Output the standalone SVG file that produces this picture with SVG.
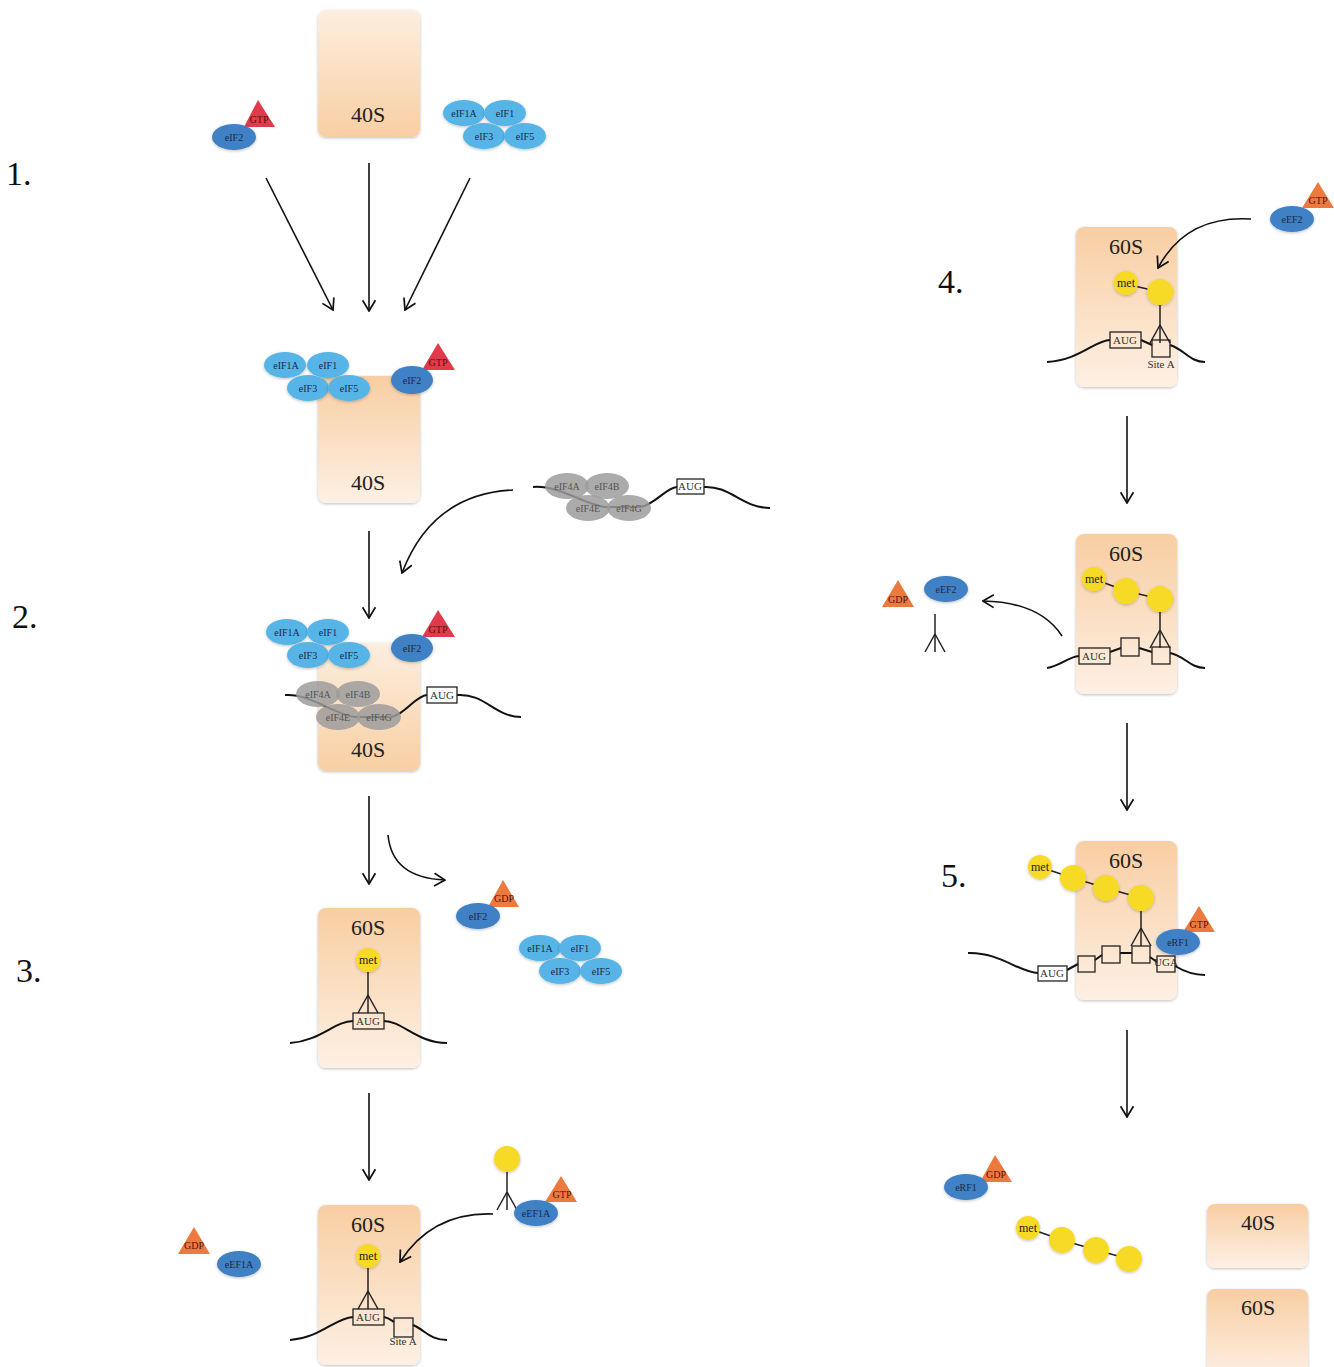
<svg xmlns="http://www.w3.org/2000/svg" width="1334" height="1367" viewBox="0 0 1334 1367">
<defs>
<linearGradient id="g40" x1="0" y1="0" x2="0" y2="1">
<stop offset="0" stop-color="#fdeee0"/><stop offset="1" stop-color="#f8cfa3"/>
</linearGradient>
<linearGradient id="g60" x1="0" y1="0" x2="0" y2="1">
<stop offset="0" stop-color="#f8cea2"/><stop offset="1" stop-color="#fdf0e4"/>
</linearGradient>
<filter id="sh" x="-20%" y="-20%" width="140%" height="140%">
<feDropShadow dx="0" dy="1" stdDeviation="1.5" flood-color="#000" flood-opacity="0.25"/>
</filter>
<marker id="ah" viewBox="0 0 12 14" refX="11" refY="7" markerWidth="13" markerHeight="15" markerUnits="userSpaceOnUse" orient="auto">
<path d="M1,1 L11,7 L1,13" fill="none" stroke="#111" stroke-width="1.6"/>
</marker>
<g id="tri"><line x1="0" y1="0" x2="-10" y2="18"/><line x1="0" y1="0" x2="0" y2="18"/><line x1="0" y1="0" x2="10" y2="18"/></g>
</defs>
<style>
.lbl{font-family:"Liberation Serif","Times New Roman",serif;font-size:34px;fill:#111}
.rib{font-family:"Liberation Serif","Times New Roman",serif;font-size:22px;fill:#222;text-anchor:middle}
.box40{fill:url(#g40);filter:url(#sh)}
.box60{fill:url(#g60);filter:url(#sh)}
.eb{fill:#3f80c4;filter:url(#sh)}
.el{fill:#57b5e6;filter:url(#sh)}
.eg{fill:#9c9c9c;opacity:0.85}
.t{font-family:"Liberation Serif","Times New Roman",serif;font-size:10px;fill:#1a2a48;text-anchor:middle}
.tg{font-family:"Liberation Serif","Times New Roman",serif;font-size:10px;fill:#555;text-anchor:middle}
.tt{font-family:"Liberation Serif","Times New Roman",serif;font-size:10px;fill:#5a1010;text-anchor:middle}
.red{fill:#e13a4a}
.org{fill:#ec7a3e}
.y{fill:#f6da26;filter:url(#sh)}
.tm{font-family:"Liberation Serif","Times New Roman",serif;font-size:12px;fill:#222;text-anchor:middle}
.ln{fill:none;stroke:#111;stroke-width:2}
.thin{fill:none;stroke:#222;stroke-width:1.5}
.bx{fill:#fff;stroke:#222;stroke-width:1.3}
.bxt{fill:none;stroke:#222;stroke-width:1.3}
.ta{font-family:"Liberation Serif","Times New Roman",serif;font-size:11px;fill:#333;text-anchor:middle}
.arr{fill:none;stroke:#111;stroke-width:1.6;marker-end:url(#ah)}
</style>
<rect width="1334" height="1367" fill="#fff"/>

<g id="labels">
<text class="lbl" x="6" y="185">1.</text>
<text class="lbl" x="12" y="628">2.</text>
<text class="lbl" x="16" y="982">3.</text>
<text class="lbl" x="938" y="293">4.</text>
<text class="lbl" x="941" y="887">5.</text>
</g>

<!-- Step 1 inputs -->
<g id="eIF2-gtp-top">
<polygon class="red" points="244,127 258,100 275,127"/>
<ellipse class="eb" cx="234" cy="137" rx="22" ry="13"/>
<text class="t" x="234" y="141">eIF2</text>
<text class="tt" x="259" y="123">GTP</text>
</g>
<g id="ribosome40S-top">
<rect class="box40" x="318" y="10" width="102" height="127" rx="8"/>
<text class="rib" x="368" y="122">40S</text>
</g>
<g id="eIF-cluster-top">
<ellipse class="el" cx="464" cy="113" rx="21" ry="13"/>
<ellipse class="el" cx="505" cy="113" rx="21" ry="13"/>
<ellipse class="el" cx="484" cy="136" rx="21" ry="13"/>
<ellipse class="el" cx="525" cy="136" rx="21" ry="13"/>
<text class="t" x="464" y="117">eIF1A</text>
<text class="t" x="505" y="117">eIF1</text>
<text class="t" x="484" y="140">eIF3</text>
<text class="t" x="525" y="140">eIF5</text>
</g>

<!-- Step 1 result -->
<g id="complex-43S">
<rect class="box60" x="318" y="376" width="102" height="127" rx="8"/>
<text class="rib" x="368" y="490">40S</text>
<ellipse class="el" cx="285" cy="365" rx="21" ry="13"/>
<ellipse class="el" cx="328" cy="365" rx="21" ry="13"/>
<ellipse class="el" cx="308" cy="388" rx="21" ry="13"/>
<ellipse class="el" cx="349" cy="388" rx="21" ry="13"/>
<text class="t" x="286" y="369">eIF1A</text>
<text class="t" x="328" y="369">eIF1</text>
<text class="t" x="308" y="392">eIF3</text>
<text class="t" x="349" y="392">eIF5</text>
<polygon class="red" points="422,370 438,343 455,370"/>
<ellipse class="eb" cx="412" cy="380" rx="21" ry="14"/>
<text class="t" x="412" y="384">eIF2</text>
<text class="tt" x="438" y="366">GTP</text>
</g>

<!-- mRNA complex -->
<g id="mRNA-eIF4">
<path class="ln" d="M533,487 C560,485 585,505 605,507 L640,507 C655,505 665,488 677,487"/>
<path class="ln" d="M703,487 C730,485 742,508 770,508"/>
<ellipse class="eg" cx="567" cy="486" rx="22" ry="13"/>
<ellipse class="eg" cx="607" cy="486" rx="22" ry="13"/>
<ellipse class="eg" cx="588" cy="508" rx="22" ry="13"/>
<ellipse class="eg" cx="629" cy="508" rx="22" ry="13"/>
<text class="tg" x="567" y="490">eIF4A</text>
<text class="tg" x="607" y="490">eIF4B</text>
<text class="tg" x="588" y="512">eIF4E</text>
<text class="tg" x="629" y="512">eIF4G</text>
<rect class="bx" x="677" y="479" width="27" height="15"/>
<text class="ta" x="690" y="490" font-size="10">AUG</text>
</g>

<!-- Step 2 -->
<g id="complex-48S">
<rect class="box40" x="318" y="643" width="102" height="128" rx="8"/>
<text class="rib" x="368" y="757">40S</text>
<ellipse class="el" cx="287" cy="632" rx="21" ry="13"/>
<ellipse class="el" cx="328" cy="632" rx="21" ry="13"/>
<ellipse class="el" cx="308" cy="655" rx="21" ry="13"/>
<ellipse class="el" cx="349" cy="655" rx="21" ry="13"/>
<text class="t" x="287" y="636">eIF1A</text>
<text class="t" x="328" y="636">eIF1</text>
<text class="t" x="308" y="659">eIF3</text>
<text class="t" x="349" y="659">eIF5</text>
<polygon class="red" points="422,637 438,610 455,637"/>
<ellipse class="eb" cx="412" cy="648" rx="21" ry="14"/>
<text class="t" x="412" y="652">eIF2</text>
<text class="tt" x="438" y="633">GTP</text>
<path class="ln" d="M285,695 C310,693 335,715 355,717 L390,717 C405,715 415,696 427,695"/>
<path class="ln" d="M457,695 C485,693 495,717 521,717"/>
<ellipse class="eg" cx="318" cy="694" rx="22" ry="13"/>
<ellipse class="eg" cx="358" cy="694" rx="22" ry="13"/>
<ellipse class="eg" cx="338" cy="717" rx="22" ry="13"/>
<ellipse class="eg" cx="379" cy="717" rx="22" ry="13"/>
<text class="tg" x="318" y="698">eIF4A</text>
<text class="tg" x="358" y="698">eIF4B</text>
<text class="tg" x="338" y="721">eIF4E</text>
<text class="tg" x="379" y="721">eIF4G</text>
<rect class="bx" x="427" y="687" width="30" height="16"/>
<text class="ta" x="442" y="699" font-size="10">AUG</text>
</g>

<!-- released factors after step 2 -->
<g id="eIF2-gdp-released">
<polygon class="org" points="488,907 503,880 519,907"/>
<ellipse class="eb" cx="478" cy="916" rx="22" ry="13"/>
<text class="t" x="478" y="920">eIF2</text>
<text class="tt" x="504" y="902">GDP</text>
</g>
<g id="eIF-cluster-released">
<ellipse class="el" cx="540" cy="948" rx="21" ry="13"/>
<ellipse class="el" cx="580" cy="948" rx="21" ry="13"/>
<ellipse class="el" cx="560" cy="971" rx="21" ry="13"/>
<ellipse class="el" cx="601" cy="971" rx="21" ry="13"/>
<text class="t" x="540" y="952">eIF1A</text>
<text class="t" x="580" y="952">eIF1</text>
<text class="t" x="560" y="975">eIF3</text>
<text class="t" x="601" y="975">eIF5</text>
</g>

<!-- Step 3 -->
<g id="ribosome80S-init">
<rect class="box60" x="318" y="908" width="102" height="160" rx="8"/>
<text class="rib" x="368" y="935">60S</text>
<line class="thin" x1="368" y1="970" x2="368" y2="995"/>
<use href="#tri" x="368" y="995" class="thin"/>
<circle class="y" cx="368" cy="960" r="12"/>
<text class="tm" x="368" y="964">met</text>
<path class="ln" d="M290,1043 C320,1041 335,1021 353,1021"/>
<path class="ln" d="M384,1021 C402,1021 417,1043 447,1043"/>
<rect class="bxt" x="353" y="1013" width="31" height="16"/>
<text class="ta" x="368" y="1025">AUG</text>
</g>

<!-- Step 3b -->
<g id="eEF1A-gdp-released">
<polygon class="org" points="178,1254 194,1227 210,1254"/>
<ellipse class="eb" cx="239" cy="1264" rx="22" ry="13"/>
<text class="t" x="239" y="1268">eEF1A</text>
<text class="tt" x="194" y="1249">GDP</text>
</g>
<g id="ribosome80S-siteA">
<rect class="box60" x="318" y="1205" width="102" height="160" rx="8"/>
<text class="rib" x="368" y="1232">60S</text>
<line class="thin" x1="368" y1="1266" x2="368" y2="1291"/>
<use href="#tri" x="368" y="1291" class="thin"/>
<circle class="y" cx="368" cy="1256" r="12"/>
<text class="tm" x="368" y="1260">met</text>
<path class="ln" d="M290,1340 C320,1338 335,1318 353,1317"/>
<path class="ln" d="M384,1317 C389,1318 391,1320 394,1322"/>
<path class="ln" d="M413,1325 C425,1330 430,1340 447,1340"/>
<rect class="bxt" x="353" y="1309" width="31" height="16"/>
<text class="ta" x="368" y="1321">AUG</text>
<rect class="bxt" x="394" y="1318" width="19" height="19"/>
<text class="ta" x="403" y="1345" font-size="10">Site A</text>
</g>
<g id="aminoacyl-tRNA-eEF1A">
<line class="thin" x1="507" y1="1170" x2="507" y2="1192"/>
<use href="#tri" x="507" y="1192" class="thin"/>
<circle class="y" cx="507" cy="1159" r="13"/>
<polygon class="org" points="545,1202 561,1176 577,1202"/>
<ellipse class="eb" cx="536" cy="1213" rx="22" ry="13"/>
<text class="t" x="536" y="1217">eEF1A</text>
<text class="tt" x="562" y="1198">GTP</text>
</g>

<!-- Step 4 -->
<g id="eEF2-gtp">
<polygon class="org" points="1302,208 1318,182 1334,208"/>
<ellipse class="eb" cx="1292" cy="219" rx="22" ry="13"/>
<text class="t" x="1292" y="223">eEF2</text>
<text class="tt" x="1318" y="204">GTP</text>
</g>
<g id="ribosome-step4">
<rect class="box60" x="1076" y="227" width="101" height="160" rx="8"/>
<text class="rib" x="1126" y="254">60S</text>
<line class="thin" x1="1126" y1="284" x2="1160" y2="292"/>
<line class="thin" x1="1160" y1="300" x2="1160" y2="325"/>
<use href="#tri" x="1160" y="325" class="thin"/>
<circle class="y" cx="1126" cy="283" r="12"/>
<text class="tm" x="1126" y="287">met</text>
<circle class="y" cx="1160" cy="292" r="13"/>
<path class="ln" d="M1047,362 C1080,360 1095,340 1110,340"/>
<path class="ln" d="M1141,340 L1152,345"/>
<path class="ln" d="M1170,345 C1185,350 1190,362 1205,362"/>
<rect class="bxt" x="1110" y="332" width="31" height="16"/>
<text class="ta" x="1125" y="344">AUG</text>
<rect class="bxt" x="1152" y="340" width="18" height="17"/>
<text class="ta" x="1161" y="368" font-size="10">Site A</text>
</g>

<g id="eEF2-gdp-released">
<polygon class="org" points="882,607 898,580 914,607"/>
<ellipse class="eb" cx="946" cy="589" rx="22" ry="13"/>
<text class="t" x="946" y="593">eEF2</text>
<text class="tt" x="898" y="603">GDP</text>
</g>
<g id="free-tRNA">
<line class="thin" x1="935" y1="614" x2="935" y2="634"/>
<use href="#tri" x="935" y="634" class="thin"/>
</g>
<g id="ribosome-step4b">
<rect class="box60" x="1076" y="534" width="101" height="160" rx="8"/>
<text class="rib" x="1126" y="561">60S</text>
<line class="thin" x1="1094" y1="579" x2="1126" y2="591"/>
<line class="thin" x1="1126" y1="591" x2="1160" y2="599"/>
<line class="thin" x1="1160" y1="608" x2="1160" y2="630"/>
<use href="#tri" x="1160" y="630" class="thin"/>
<circle class="y" cx="1094" cy="579" r="12"/>
<text class="tm" x="1094" y="583">met</text>
<circle class="y" cx="1126" cy="591" r="13"/>
<circle class="y" cx="1160" cy="599" r="13"/>
<path class="ln" d="M1047,668 C1060,666 1068,657 1079,656"/>
<path class="ln" d="M1110,652 L1121,648"/>
<path class="ln" d="M1139,648 L1152,652"/>
<path class="ln" d="M1170,653 C1185,656 1190,668 1205,668"/>
<rect class="bxt" x="1079" y="648" width="31" height="16"/>
<text class="ta" x="1094" y="660">AUG</text>
<rect class="bxt" x="1121" y="638" width="18" height="18"/>
<rect class="bxt" x="1152" y="647" width="18" height="17"/>
</g>

<!-- Step 5 -->
<g id="ribosome-step5">
<rect class="box60" x="1076" y="841" width="101" height="159" rx="8"/>
<text class="rib" x="1126" y="868">60S</text>
<line class="thin" x1="1040" y1="867" x2="1073" y2="878"/>
<line class="thin" x1="1073" y1="878" x2="1106" y2="888"/>
<line class="thin" x1="1106" y1="888" x2="1141" y2="898"/>
<line class="thin" x1="1141" y1="908" x2="1141" y2="928"/>
<use href="#tri" x="1141" y="928" class="thin"/>
<circle class="y" cx="1040" cy="867" r="12"/>
<text class="tm" x="1040" y="871">met</text>
<circle class="y" cx="1073" cy="878" r="13"/>
<circle class="y" cx="1106" cy="888" r="13"/>
<circle class="y" cx="1141" cy="898" r="13"/>
<path class="ln" d="M968,953 C1000,952 1020,973 1038,973"/>
<path class="ln" d="M1067,970 L1078,964"/>
<path class="ln" d="M1095,960 L1102,955"/>
<path class="ln" d="M1120,953 L1132,953"/>
<path class="ln" d="M1150,957 L1157,962"/>
<path class="ln" d="M1175,966 C1185,972 1195,975 1205,975"/>
<rect class="bx" x="1038" y="966" width="29" height="15"/>
<text class="ta" x="1052" y="977" font-size="10">AUG</text>
<rect class="bxt" x="1078" y="956" width="17" height="16"/>
<rect class="bxt" x="1102" y="946" width="18" height="17"/>
<rect class="bxt" x="1132" y="946" width="18" height="17"/>
<rect class="bxt" x="1157" y="956" width="18" height="16"/>
<text class="ta" x="1166" y="966" font-size="6">UGA</text>
<polygon class="org" points="1183,932 1199,906 1215,932"/>
<ellipse class="eb" cx="1178" cy="942" rx="22" ry="13"/>
<text class="t" x="1178" y="946">eRF1</text>
<text class="tt" x="1199" y="928">GTP</text>
</g>

<!-- Termination products -->
<g id="eRF1-gdp">
<polygon class="org" points="980,1182 995,1155 1012,1182"/>
<ellipse class="eb" cx="966" cy="1187" rx="22" ry="13"/>
<text class="t" x="966" y="1191">eRF1</text>
<text class="tt" x="996" y="1178">GDP</text>
</g>
<g id="peptide">
<line class="thin" x1="1028" y1="1228" x2="1062" y2="1240"/>
<line class="thin" x1="1062" y1="1240" x2="1096" y2="1250"/>
<line class="thin" x1="1096" y1="1250" x2="1129" y2="1259"/>
<circle class="y" cx="1028" cy="1228" r="12"/>
<text class="tm" x="1028" y="1232">met</text>
<circle class="y" cx="1062" cy="1240" r="13"/>
<circle class="y" cx="1096" cy="1250" r="13"/>
<circle class="y" cx="1129" cy="1259" r="13"/>
</g>
<g id="ribosome40S-free">
<rect class="box60" x="1207" y="1204" width="101" height="64" rx="8"/>
<text class="rib" x="1258" y="1230">40S</text>
</g>
<g id="ribosome60S-free">
<rect class="box60" x="1207" y="1289" width="101" height="90" rx="8"/>
<text class="rib" x="1258" y="1315">60S</text>
</g>

<g id="connectors">
<path class="arr" d="M266,178 L333,310"/>
<path class="arr" d="M369,163 L369,311"/>
<path class="arr" d="M470,178 L405,310"/>
<path class="arr" d="M369,531 L369,618"/>
<path class="arr" d="M513,490 Q432,494 402,573"/>
<path class="arr" d="M369,796 L369,884"/>
<path class="arr" d="M388,835 Q392,878 445,880"/>
<path class="arr" d="M369,1093 L369,1180"/>
<path class="arr" d="M493,1214 Q432,1212 400,1262"/>
<path class="arr" d="M1251,219 Q1186,215 1158,268"/>
<path class="arr" d="M1127,416 L1127,503"/>
<path class="arr" d="M1062,636 Q1040,602 983,601"/>
<path class="arr" d="M1127,723 L1127,810"/>
<path class="arr" d="M1127,1030 L1127,1117"/>
</g>
</svg>
